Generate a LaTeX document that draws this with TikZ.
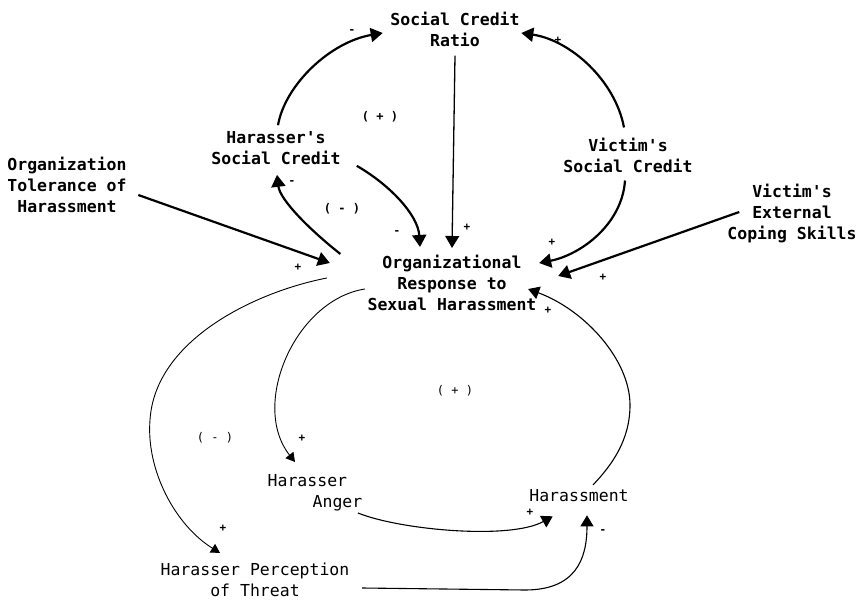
\documentclass[tikz,border=0pt]{standalone}
\usepackage{fontspec}
\newfontfamily\diagfont{DejaVu Sans Mono}
\usetikzlibrary{arrows.meta,calc}
\begin{document}
\begin{tikzpicture}[x=1pt,y=-1pt,
  concept/.style={inner sep=0pt, align=center, font=\diagfont\bfseries\fontsize{16.5}{21}\selectfont},
  concepttwo/.style={inner sep=0pt, align=center, font=\diagfont\fontsize{16.5}{21}\selectfont},
  sign/.style={inner sep=0pt, font=\diagfont\bfseries\fontsize{11}{13}\selectfont},
  loopsign/.style={inner sep=0pt, font=\diagfont\fontsize{12}{14}\selectfont},
  heavy/.style={line width=2.2pt, -{Triangle[length=12pt,width=14pt]}},
  medium/.style={line width=1.3pt, -{Triangle[length=12pt,width=14pt]}},
  light/.style={line width=0.9pt, -{Triangle[length=9pt,width=10pt]}},
  lightbig/.style={line width=1.1pt, -{Triangle[length=11pt,width=13pt]}}
]
\fill[white] (0,0) rectangle (861,601);
\useasboundingbox (0,0) rectangle (861,601);

% concepts
\node[concept] (scr) at (455,29) {Social Credit\\Ratio};
\node[concept] (hsc) at (276,148) {Harasser's\\Social Credit};
\node[concept] (vsc) at (628,155) {Victim's\\Social Credit};
\node[concept] (otol) at (67,185) {Organization\\Tolerance of\\Harassment};
\node[concept] (vecs) at (792,214) {Victim's\\External\\Coping Skills};
\node[concept] (org) at (452,283) {Organizational\\Response to\\Sexual Harassment};
\node[concepttwo, align=left] (anger) at (315,493) {Harasser\\\hspace*{45pt}Anger};
\node[concepttwo] (harass) at (579,496) {Harassment};
\node[concepttwo] (threat) at (255,580) {Harasser Perception\\of Threat};

% upper links
\draw[heavy] ($(hsc.north)+(2,-6)$) .. controls (285,85) and (330,42) .. ($(scr.west)+(-7.5,4)$);
\draw[heavy] ($(vsc.north)+(-4,-10)$) .. controls (615,80) and (570,40) .. ($(scr.east)+(1.5,4)$);
\draw[medium] ($(scr.south)+(0,9)$) -- ($(org.north)+(0,-7)$);
\draw[heavy] ($(hsc.south east)+(16,1)$) .. controls (390,185) and (418,215) .. ($(org.north)+(-32,-8)$);
\draw[heavy] ($(org.north west)+(-27,-1)$) .. controls (310,230) and (280,200) .. ($(hsc.south)+(1,10)$);
\draw[heavy] ($(vsc.south)+(-3,8)$) .. controls (622,225) and (580,255) .. ($(org.east)+(2.5,-20)$);
\draw[heavy] ($(vecs.west)+(12,-2)$) -- ($(org.east)+(21.5,-7)$);
\draw[heavy] ($(otol.east)+(11.5,10)$) -- ($(org.west)+(-37.5,-20)$);

% lower links
\draw[light] ($(org.west)+(-40.5,-5)$) .. controls (255,292) and (155,340) .. (150,420)
   .. controls (146,470) and (175,525) .. ($(threat.north)+(-35,-10)$);
\draw[light] ($(org.west)+(-2.5,6)$) .. controls (295,300) and (250,405) .. ($(anger.north)+(-20,-12.5)$);
\draw[lightbig] ($(anger.south east)+(-4.6,1.5)$) .. controls (400,530) and (510,540) .. ($(harass.south west)+(23.6,14)$);
\draw[lightbig] ($(threat.east)+(12.6,8)$) -- (525,590) .. controls (575,590) and (587,560) .. ($(harass.south)+(8,13)$);
\draw[lightbig] ($(harass.north)+(14,-4.75)$) .. controls (612,465) and (630,440) .. (630,405)
   .. controls (630,360) and (585,310) .. ($(org.south east)+(-8.5,-22)$);

% polarity signs
\node[sign] (s1) at (352,32) {-};
\node[sign] (s2) at (558,40) {+};
\node[sign] (s3) at (292,183) {-};
\node[sign] (s4) at (397,233) {-};
\node[sign] (s5) at (467,227) {+};
\node[sign] (s6) at (552,242) {+};
\node[sign] (s7) at (603,277) {+};
\node[sign] (s8) at (298,267) {+};
\node[sign] (s9) at (548,310) {+};
\node[sign] (s10) at (302,438) {+};
\node[sign] (s11) at (223,528) {+};
\node[sign] (s12) at (530,512) {+};
\node[sign] (s13) at (603,532) {-};

% loop labels
\node[loopsign, font=\diagfont\bfseries\fontsize{12}{14}\selectfont] (l1) at (380,117) {( + )};
\node[loopsign, font=\diagfont\bfseries\fontsize{12}{14}\selectfont] (l2) at (342,209) {( - )};
\node[loopsign] (l3) at (455,391) {( + )};
\node[loopsign] (l4) at (215,438) {( - )};
\end{tikzpicture}
\end{document}
